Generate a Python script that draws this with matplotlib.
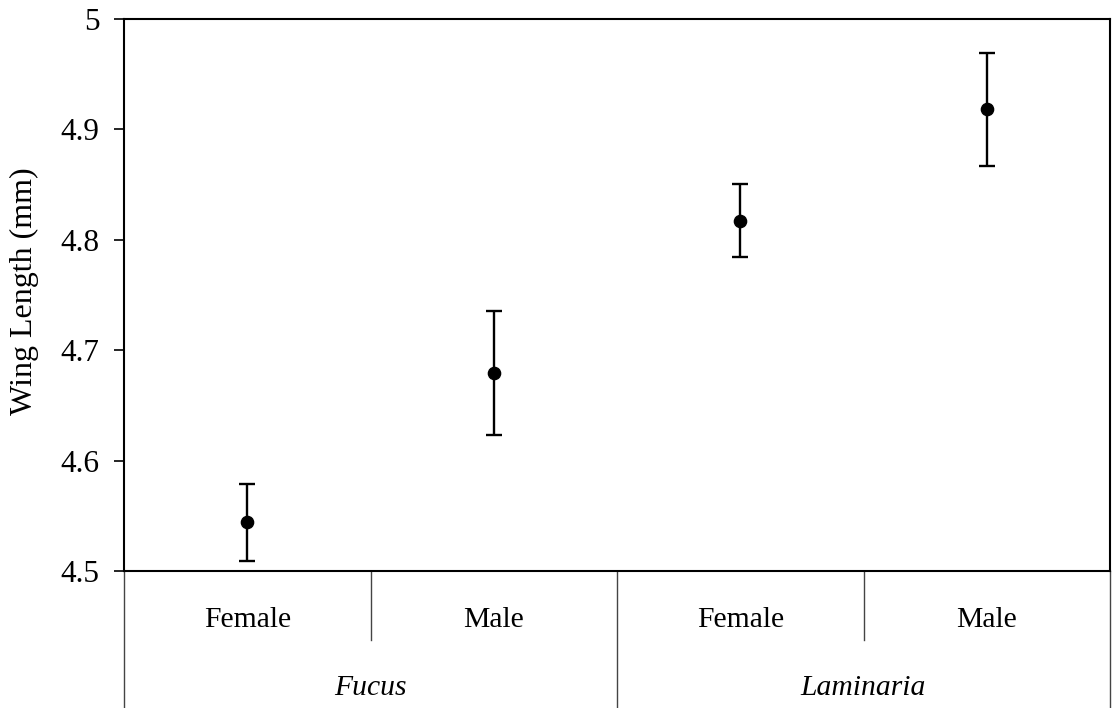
import matplotlib
matplotlib.use("Agg")
import matplotlib.pyplot as plt
from matplotlib.lines import Line2D

plt.rcParams["font.family"] = ["Liberation Serif", "DejaVu Serif"]

# Mean wing length with error (mm) per habitat / sex group
sexes = ["Female", "Male", "Female", "Male"]
habitats = ["Fucus", "Laminaria"]
means = [4.544, 4.679, 4.817, 4.918]
errors = [0.035, 0.056, 0.033, 0.051]
yticks = [4.5, 4.6, 4.7, 4.8, 4.9, 5.0]
ytick_labels = ["4.5", "4.6", "4.7", "4.8", "4.9", "5"]

W, H = 1112, 708
fig = plt.figure(figsize=(W / 100, H / 100), dpi=100)
left, right, top, bottom = 124, 1110, 18.7, 571
ax = fig.add_axes([left / W, 1 - bottom / H, (right - left) / W, (bottom - top) / H])

xpos = [i + 0.5 for i in range(len(means))]
ax.errorbar(xpos, means, yerr=errors, fmt="o", color="black", ms=8.8,
            elinewidth=1.7, capsize=6, capthick=1.7)

ax.set_xlim(0, len(means))
ax.set_ylim(4.5, 5.0)
ax.set_yticks(yticks)
ax.set_yticklabels(ytick_labels)
ax.set_xticks([])
ax.tick_params(axis="y", direction="out", length=7.2, width=1.2, labelsize=22.5, pad=10.5)
for s in ax.spines.values():
    s.set_linewidth(1.5)

ax.text((24 - left) / (right - left), (bottom - 291) / (bottom - top),
        "Wing Length (mm)", transform=ax.transAxes, rotation=90,
        ha="center", va="center", fontsize=23)

# Grouped category axis below the plot
tr = ax.get_xaxis_transform()
low = -(H - bottom) / (bottom - top)       # figure bottom in axes units
mid = -(640 - bottom) / (bottom - top)     # end of short dividers
line_kw = dict(color="#444444", lw=1.0, transform=tr, clip_on=False)
for x in [0, 2, 4]:
    ax.add_line(Line2D([x, x], [0, low], **line_kw))
for x in [1, 3]:
    ax.add_line(Line2D([x, x], [0, mid], **line_kw))

sex_y = -(620 - bottom) / (bottom - top)
hab_y = -(688 - bottom) / (bottom - top)
for x, lab in zip(xpos, sexes):
    ax.text(x, sex_y, lab, transform=tr, ha="center", va="center", fontsize=21.3)
for i, lab in enumerate(habitats):
    ax.text(2 * i + 1, hab_y, lab, transform=tr, ha="center", va="center",
            fontsize=21.3, style="italic")

fig.savefig("out.png", dpi=100)
